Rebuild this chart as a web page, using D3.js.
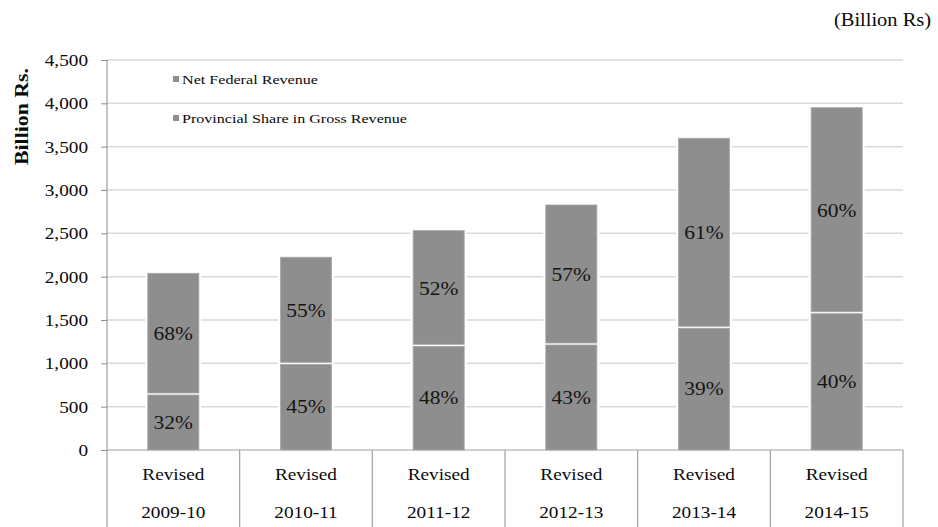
<!DOCTYPE html>
<html>
<head>
<meta charset="utf-8">
<script src="https://cdn.jsdelivr.net/npm/d3@7"></script>
<style>
  html, body { margin: 0; padding: 0; background: #fff; }
  svg { display: block; }
  svg text { font-family: "Liberation Serif", "Times New Roman", serif; }
</style>
</head>
<body>
<svg id="chart" width="938" height="527"></svg>
<script>
// Revenue split per fiscal year (Billion Rs)
const years = ["2009-10", "2010-11", "2011-12", "2012-13", "2013-14", "2014-15"];
const yearPrefix = "Revised";
const provincialShare = [646, 1000, 1208, 1223, 1416, 1584];
const netFederal = [1393, 1224, 1323, 1604, 2181, 2366];
const seriesNames = ["Net Federal Revenue", "Provincial Share in Gross Revenue"];
const yTicks = [0, 500, 1000, 1500, 2000, 2500, 3000, 3500, 4000, 4500];

const W = 938, H = 527;
const plot = { left: 107, right: 903, top: 60, bottom: 450 };
const barColor = "#8e8e8e";
const ink = "#0a0a0a";

const svg = d3.select("#chart");

// horizontal scale factor: a 17px "Revised" should span about 62px
const probe = svg.append("text").attr("font-size", 17).text(yearPrefix);
const textStretch = 62 / probe.node().getComputedTextLength();
probe.remove();

// widen text to the chart's proportions
function stretch(sel, k) {
  sel.each(function () {
    const w = this.getComputedTextLength();
    this.setAttribute("textLength", w * k);
    this.setAttribute("lengthAdjust", "spacingAndGlyphs");
  });
}

const x = d3.scaleBand().domain(years).range([plot.left, plot.right]).padding(0);
const y = d3.scaleLinear().domain([0, 4500]).range([plot.bottom, plot.top]);
const barW = x.bandwidth() * 0.385;

// gridlines
svg.append("g").selectAll("line").data(yTicks.filter(d => d > 0)).join("line")
  .attr("x1", plot.left).attr("x2", plot.right)
  .attr("y1", d => y(d)).attr("y2", d => y(d))
  .attr("stroke", "#d9d9d9").attr("stroke-width", 1.5);

// y axis
const yAxis = svg.append("g")
  .attr("transform", `translate(${plot.left},0)`)
  .call(d3.axisLeft(y).tickValues(yTicks).tickSize(6).tickPadding(13)
    .tickFormat(d3.format(",")));
yAxis.attr("font-family", null);
yAxis.select(".domain").remove();
yAxis.selectAll(".tick line").attr("stroke", "#8c8c8c");
yAxis.selectAll(".tick text")
  .attr("font-size", 17).attr("fill", ink);
stretch(yAxis.selectAll(".tick text"), textStretch);
svg.append("line")
  .attr("x1", plot.left).attr("x2", plot.left)
  .attr("y1", plot.top).attr("y2", H)
  .attr("stroke", "#8c8c8c").attr("stroke-width", 1);

// y title
svg.append("text")
  .attr("transform", `translate(28,${(68 + 165) / 2}) rotate(-90)`)
  .attr("text-anchor", "middle")
  .attr("font-size", 18).attr("font-weight", "bold").attr("fill", ink)
  .attr("textLength", 97).attr("lengthAdjust", "spacingAndGlyphs")
  .text("Billion Rs.");

// unit note
svg.append("text")
  .attr("x", 931).attr("y", 26).attr("text-anchor", "end")
  .attr("font-size", 18).attr("fill", ink)
  .attr("textLength", 97).attr("lengthAdjust", "spacingAndGlyphs")
  .text("(Billion Rs)");

// stacked bars
const rows = years.map((yr, i) => ({
  year: yr,
  prov: provincialShare[i],
  net: netFederal[i],
  total: provincialShare[i] + netFederal[i]
}));

const bars = svg.append("g");
rows.forEach(r => {
  const cx = x(r.year) + x.bandwidth() / 2;
  const x0 = cx - barW / 2;
  const yTop = y(r.total), ySplit = y(r.prov), yBase = y(0);
  // white halo separating bar from gridlines
  bars.append("rect")
    .attr("x", x0 - 2.5).attr("y", yTop - 2.5)
    .attr("width", barW + 5).attr("height", yBase - yTop + 2.5)
    .attr("fill", "#fff");
  // provincial share (lower)
  bars.append("rect")
    .attr("x", x0).attr("y", ySplit + 1)
    .attr("width", barW).attr("height", yBase - ySplit - 1)
    .attr("fill", barColor).attr("stroke", "#a8a8a8").attr("stroke-width", 0.8);
  // net federal revenue (upper)
  bars.append("rect")
    .attr("x", x0).attr("y", yTop)
    .attr("width", barW).attr("height", ySplit - yTop - 1)
    .attr("fill", barColor).attr("stroke", "#a8a8a8").attr("stroke-width", 0.8);

  const pProv = Math.round(r.prov / r.total * 100);
  const pNet = Math.round(r.net / r.total * 100);
  const lp = bars.append("text")
    .attr("x", cx).attr("y", (ySplit + yBase) / 2)
    .attr("dy", "0.35em").attr("text-anchor", "middle")
    .attr("font-size", 19).attr("fill", "#151515")
    .text(pProv + "%");
  const ln = bars.append("text")
    .attr("x", cx).attr("y", (yTop + ySplit) / 2)
    .attr("dy", "0.35em").attr("text-anchor", "middle")
    .attr("font-size", 19).attr("fill", "#151515")
    .text(pNet + "%");
  stretch(lp, textStretch);
  stretch(ln, textStretch);
});

// category table under the axis
const table = svg.append("g");
table.append("line")
  .attr("x1", plot.left).attr("x2", plot.right)
  .attr("y1", plot.bottom).attr("y2", plot.bottom)
  .attr("stroke", "#a0a0a0").attr("stroke-width", 1.2);
const bounds = years.map(d => x(d)).concat([plot.right]);
table.selectAll("line.sep").data(bounds.slice(1)).join("line")
  .attr("class", "sep")
  .attr("x1", d => d).attr("x2", d => d)
  .attr("y1", plot.bottom).attr("y2", H)
  .attr("stroke", "#a0a0a0").attr("stroke-width", 1.2);
years.forEach(yr => {
  const cx = x(yr) + x.bandwidth() / 2;
  const t1 = table.append("text")
    .attr("x", cx).attr("y", 474).attr("dy", "0.35em")
    .attr("text-anchor", "middle").attr("font-size", 17).attr("fill", ink)
    .text(yearPrefix);
  const t2 = table.append("text")
    .attr("x", cx).attr("y", 512).attr("dy", "0.35em")
    .attr("text-anchor", "middle").attr("font-size", 17).attr("fill", ink)
    .text(yr);
  stretch(t1, textStretch);
  stretch(t2, textStretch);
});

// legend
const legend = svg.append("g");
const legendWidths = [136, 225];
seriesNames.forEach((name, i) => {
  const ly = 79 + i * 39;
  legend.append("rect")
    .attr("x", 173).attr("y", ly - 3).attr("width", 6).attr("height", 6)
    .attr("fill", barColor);
  legend.append("text")
    .attr("x", 182).attr("y", ly).attr("dy", "0.35em")
    .attr("font-size", 13).attr("fill", ink)
    .attr("textLength", legendWidths[i]).attr("lengthAdjust", "spacingAndGlyphs")
    .text(name);
});
</script>
</body>
</html>
